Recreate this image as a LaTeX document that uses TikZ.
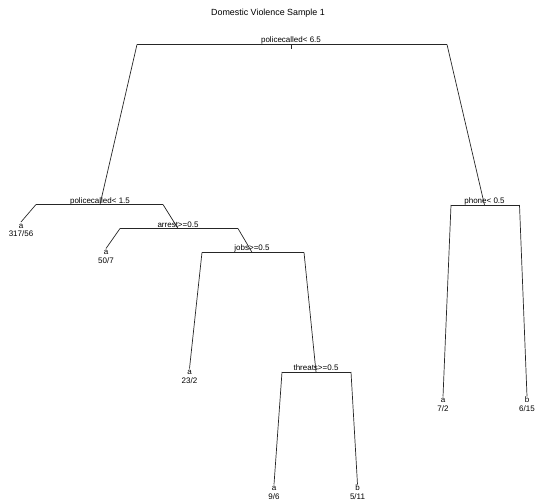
\documentclass[tikz,border=0pt]{standalone}
\usepackage{fontspec}
\setmainfont{Liberation Sans}
\begin{document}
\begin{tikzpicture}[x=1pt,y=-1pt,
  branch/.style={draw=black!85,line width=0.7pt},
  splitlbl/.style={anchor=base,inner sep=0pt,font=\fontsize{8}{9}\selectfont},
  leaflbl/.style={anchor=base,inner sep=0pt,font=\fontsize{8}{9}\selectfont},
  titlelbl/.style={anchor=base,inner sep=0pt,font=\fontsize{8.9}{10}\selectfont}]
\useasboundingbox (0,0) rectangle (535,503);

% title
\node[titlelbl] (title) at (268,15.5) {Domestic Violence Sample 1};

% split nodes: node point, left and right ends of the bar
\coordinate (root) at (291,44.5);  \coordinate (rootL) at (137,44.5); \coordinate (rootR) at (447,44.5);
\coordinate (roottick) at (291,49.5);
\coordinate (pc) at (100,204.5);   \coordinate (pcL) at (36,204.5);   \coordinate (pcR) at (163,204.5);
\coordinate (ar) at (178,228.5);   \coordinate (arL) at (120,228.5);  \coordinate (arR) at (238,228.5);
\coordinate (jb) at (252,252.3);   \coordinate (jbL) at (202,252.3);  \coordinate (jbR) at (304,252.3);
\coordinate (th) at (316,372);     \coordinate (thL) at (282,372);    \coordinate (thR) at (351,372);
\coordinate (ph) at (484.5,205);   \coordinate (phL) at (451,205);    \coordinate (phR) at (519.5,205);

% leaf tops
\coordinate (l1) at (21,222);
\coordinate (l2) at (106,248.5);
\coordinate (l3) at (189.5,368.5);
\coordinate (l4) at (274,484.5);
\coordinate (l5) at (357.5,484.5);
\coordinate (l6) at (443,396.5);
\coordinate (l7) at (527,396.5);

% split labels, set just above their bars
\node[splitlbl] (rootlbl) at ([yshift=1.5pt]root) {policecalled< 6.5};
\node[splitlbl] (pclbl) at ([yshift=1.5pt]pc) {policecalled< 1.5};
\node[splitlbl] (arlbl) at ([yshift=1.5pt]ar) {arrest>=0.5};
\node[splitlbl] (jblbl) at ([yshift=1.5pt]jb) {jobs>=0.5};
\node[splitlbl] (thlbl) at ([yshift=1.5pt]th) {threats>=0.5};
\node[splitlbl] (phlbl) at ([yshift=1.5pt]ph) {phone< 0.5};

% bars
\draw[branch] (rootL) -- (rootR);
\draw[branch] (root) -- (roottick);
\draw[branch] (pcL) -- (pcR);
\draw[branch] (arL) -- (arR);
\draw[branch] (jbL) -- (jbR);
\draw[branch] (thL) -- (thR);
\draw[branch] (phL) -- (phR);

% branches to children
\draw[branch] (rootL) -- (pc);
\draw[branch] (rootR) -- (ph);
\draw[branch] (pcL) -- (l1);
\draw[branch] (pcR) -- (ar);
\draw[branch] (arL) -- (l2);
\draw[branch] (arR) -- (jb);
\draw[branch] (jbL) -- (l3);
\draw[branch] (jbR) -- (th);
\draw[branch] (thL) -- (l4);
\draw[branch] (thR) -- (l5);
\draw[branch] (phL) -- (l6);
\draw[branch] (phR) -- (l7);

% leaf class and counts
\foreach \lf/\cls/\cnt in {l1/a/317\slash 56, l2/a/50\slash 7, l3/a/23\slash 2, l4/a/9\slash 6,
                           l5/b/5\slash 11, l6/a/7\slash 2, l7/b/6\slash 15}{
  \node[leaflbl] (\lf cls) at ([yshift=-6pt]\lf) {\cls};
  \node[leaflbl] (\lf cnt) at ([yshift=-14.5pt]\lf) {\cnt};
}
\end{tikzpicture}
\end{document}
